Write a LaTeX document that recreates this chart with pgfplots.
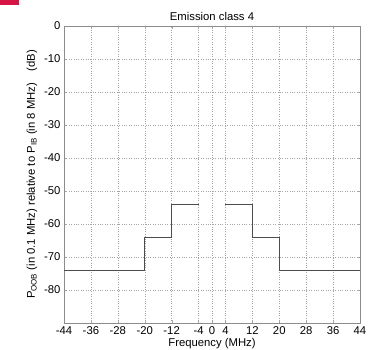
\documentclass[border=0pt]{standalone}
\usepackage{pgfplots}
\pgfplotsset{compat=1.18}
\usepackage{fontspec}
\setmainfont{Liberation Sans}
\definecolor{topred}{RGB}{215,20,70}
\begin{document}
\begin{tikzpicture}[x=1pt,y=1pt]
\path[use as bounding box] (-64,-27) rectangle (305,323);
\fill[topred] (-64,323) rectangle (-45,318);
\begin{axis}[at={(0,0)}, anchor=south west, scale only axis,
  width=296pt, height=297pt,
  xmin=-44, xmax=44, ymin=-90, ymax=0,
  xtick={-44,-36,-28,-20,-12,-4,0,4,12,20,28,36,44},
  ytick={-80,-70,-60,-50,-40,-30,-20,-10,0},
  grid=major, grid style={dotted, gray!70},
  axis line style={gray!90},
  tick style={gray!70},
  major tick length=3pt,
  tick align=inside,
  /pgf/number format/assume math mode=true,
  ticklabel style={font=\fontsize{11.3}{13}\selectfont},
  title={Emission class 4},
  title style={font=\fontsize{11.3}{13}\selectfont, yshift=-4pt},
  xlabel={Frequency (MHz)},
  xlabel style={font=\fontsize{11.3}{13}\selectfont, yshift=3pt},
  ylabel={P$_{\mathrm{OOB}}$ (in 0.1 MHz) relative to P$_{\mathrm{IB}}$ (in 8 MHz)\quad (dB)},
  ylabel style={font=\fontsize{11.3}{13}\selectfont},
]
\addplot[const plot, line width=1.4pt, color=black!70] coordinates {(-44,-74) (-20,-64) (-12,-54) (-4,-54)};
\addplot[const plot, line width=1.4pt, color=black!70] coordinates {(4,-54) (12,-64) (20,-74) (44,-74)};
\end{axis}
\end{tikzpicture}
\end{document}
